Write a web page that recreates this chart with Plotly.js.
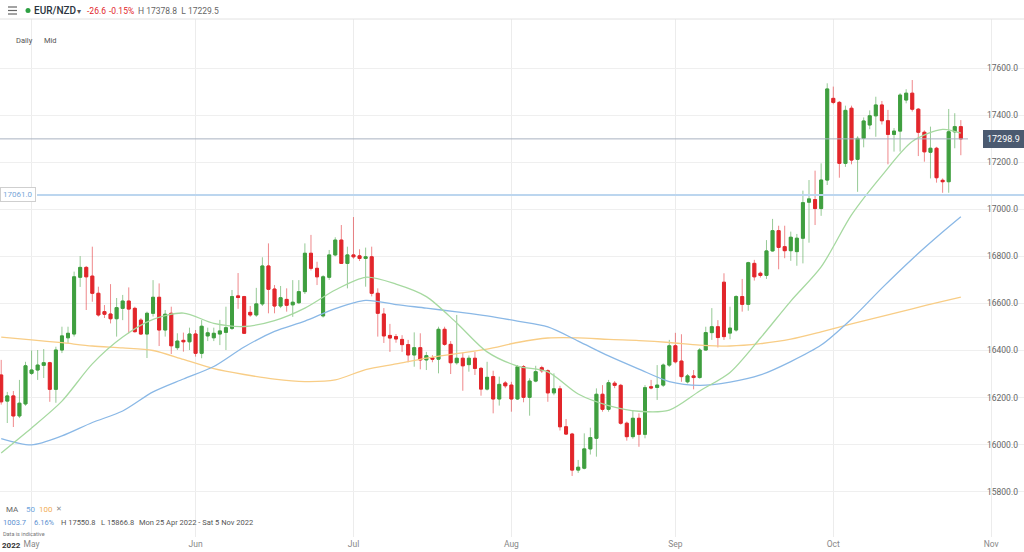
<!DOCTYPE html>
<html><head><meta charset="utf-8">
<script src="https://cdn.plot.ly/plotly-3.0.1.min.js"></script>
<style>html,body{margin:0;padding:0;background:#fff;}#chart{width:1024px;height:552px;}</style>
</head><body><div id="chart"></div>
<script>
// ---------- data (EUR/NZD daily, Mid) ----------
const firstDate = '2022-04-25';
const opens = [16296,16185,16207,16122,16173,16303,16317,16337,16348,16235,16402,16454,16470,16711,16753,16716,16643,16565,16555,16535,16579,16610,16579,16529,16470,16558,16626,16487,16558,16412,16443,16437,16470,16388,16462,16454,16470,16477,16494,16632,16629,16562,16551,16598,16759,16661,16589,16617,16594,16603,16650,16813,16749,16547,16711,16806,16869,16770,16806,16802,16791,16798,16643,16555,16464,16459,16447,16425,16381,16412,16360,16369,16363,16490,16426,16348,16367,16340,16367,16324,16236,16289,16194,16262,16253,16194,16331,16201,16270,16327,16314,16220,16237,16076,16045,15892,15900,15982,16027,16214,16150,16261,16252,16091,16034,16112,16044,16246,16243,16253,16338,16420,16355,16267,16292,16285,16402,16476,16501,16690,16474,16487,16629,16596,16770,16728,16719,16823,16909,16841,16824,16820,16877,17030,17041,17003,17124,17471,17454,17195,17429,17212,17301,17358,17397,17443,17376,17318,17332,17464,17493,17425,17327,17242,17259,17123,17117,17329,17351];
const highs = [16360,16224,16228,16275,16352,16400,16402,16406,16352,16416,16501,16501,16735,16801,16759,16841,16671,16593,16682,16623,16636,16668,16586,16537,16565,16699,16685,16572,16586,16473,16476,16497,16487,16529,16497,16497,16530,16586,16657,16729,16632,16589,16666,16796,16855,16678,16674,16664,16699,16699,16855,16891,16777,16720,16827,16881,16933,16841,16967,16830,16837,16841,16664,16580,16513,16470,16465,16445,16477,16473,16394,16380,16501,16501,16440,16551,16391,16379,16394,16330,16352,16314,16289,16270,16267,16338,16338,16282,16335,16335,16320,16303,16250,16109,16050,15935,16048,16072,16239,16253,16275,16270,16258,16098,16147,16133,16253,16275,16338,16345,16445,16475,16469,16300,16317,16410,16501,16580,16529,16728,16586,16635,16704,16777,16785,16735,16869,16959,16930,16930,16905,16895,17079,17124,17164,17195,17535,17521,17460,17440,17440,17310,17390,17420,17478,17460,17422,17345,17493,17510,17549,17430,17335,17351,17265,17131,17426,17408,17378.8];
const lows = [16170,16092,16075,16113,16165,16296,16275,16283,16182,16178,16389,16432,16459,16670,16572,16607,16544,16538,16515,16459,16529,16473,16476,16466,16368,16544,16419,16459,16385,16402,16395,16402,16374,16367,16440,16440,16423,16402,16487,16577,16470,16543,16543,16589,16558,16558,16580,16565,16543,16598,16640,16740,16678,16540,16700,16800,16768,16664,16790,16780,16671,16630,16459,16432,16394,16433,16394,16350,16331,16320,16317,16350,16303,16420,16300,16340,16229,16310,16296,16208,16230,16133,16166,16240,16140,16190,16180,16123,16265,16305,16182,16210,16060,16041,15867,15880,15895,15958,15949,16140,16140,16240,16085,16017,16025,15991,16027,16235,16190,16245,16330,16345,16267,16260,16235,16280,16400,16445,16413,16445,16448,16480,16565,16569,16697,16710,16704,16820,16745,16792,16781,16760,16770,16858,16933,16972,17103,17446,17134,17180,17191,17074,17263,17340,17308,17360,17191,17245,17245,17450,17415,17226,17202,17131,17113,17070,17070,17259,17229.5];
const closes = [16182,16207,16122,16176,16335,16317,16338,16348,16235,16402,16462,16473,16713,16753,16713,16643,16551,16554,16535,16582,16610,16576,16480,16470,16558,16626,16487,16554,16420,16440,16437,16470,16388,16503,16475,16473,16483,16497,16629,16625,16473,16551,16598,16759,16660,16589,16624,16592,16605,16650,16813,16749,16713,16713,16806,16869,16770,16806,16798,16791,16798,16643,16558,16462,16453,16449,16425,16381,16412,16360,16378,16363,16490,16426,16348,16367,16335,16367,16324,16236,16286,16194,16256,16250,16194,16331,16201,16270,16310,16314,16220,16237,16076,16045,15892,15904,15982,16030,16214,16150,16263,16252,16091,16034,16112,16044,16242,16241,16253,16338,16420,16352,16289,16292,16285,16402,16476,16501,16455,16459,16495,16629,16596,16773,16713,16719,16823,16909,16838,16824,16881,16877,17028,17044,17003,17124,17511,17454,17195,17420,17209,17301,17375,17397,17443,17376,17318,17332,17485,17493,17425,17327,17244,17259,17134,17117,17329,17351,17298.9];

// moving averages at every 5th candle (and the last one)
const maIndex = [0,5,10,15,20,25,30,35,40,45,50,55,60,65,70,75,80,85,90,95,100,105,110,115,120,125,130,135,140,145,150,155,158];
const ma20  = [15965,16071,16185,16343,16457,16532,16559,16515,16502,16527,16580,16657,16711,16682,16629,16517,16394,16334,16309,16215,16166,16142,16147,16228,16307,16453,16610,16755,16976,17143,17288,17339,17323];
const ma50  = [16026,15999,16037,16094,16143,16224,16279,16332,16415,16481,16525,16578,16613,16595,16580,16564,16547,16525,16500,16440,16377,16321,16268,16252,16266,16296,16353,16423,16534,16665,16789,16903,16968];
const ma100 = [16457,16445,16433,16419,16411,16400,16362,16323,16298,16278,16268,16275,16319,16343,16368,16387,16406,16434,16453,16454,16447,16442,16434,16423,16419,16429,16448,16479,16513,16545,16577,16609,16627];

const yTicks = [15800,16000,16200,16400,16600,16800,17000,17200,17400,17600];
const monthStarts = ['2022-05-01','2022-06-01','2022-07-01','2022-08-01','2022-09-01','2022-10-01','2022-11-01'];
const monthLabels = ['May','Jun','Jul','Aug','Sep','Oct','Nov'];
const alertLevel = 17061.0;
const headerPair = 'EUR/NZD';
const headerChange = '-26.6';
const headerChangePct = '-0.15%';
const periodChange = '1003.7';
const periodChangePct = '6.16%';
const periodHigh = 17550.8;
const periodLow = 15866.8;
const periodText = 'Mon 25 Apr 2022 - Sat 5 Nov 2022';

// ---------- helpers ----------
const DAY = 86400000;
function tradingDates(start, n){ // daily candles; Saturdays have none
  const out=[]; let t=Date.parse(start+'T00:00:00Z');
  while(out.length<n){ if(new Date(t).getUTCDay()!==6) out.push(new Date(t).toISOString().slice(0,10)); t+=DAY; }
  return out;
}
const N = closes.length;
const calendar = tradingDates(firstDate, N+14);      // session calendar, extended past the last candle
const dates = calendar.slice(0,N);
const slot = dates.map((d,i)=>i);                      // one slot per trading session
const tickSlots = monthStarts.map(m=>calendar.findIndex(d=>d>=m));
const xRange = [-0.2, N-1+10.4];

const bodyHigh = opens.map((o,i)=>Math.max(o,closes[i]));
const bodyLow = opens.map((o,i)=>Math.min(o,closes[i]));

const GREEN='#3f9f3f', RED='#e2262b';
const FONT='Roboto, "Open Sans", Arial, sans-serif';

const traces = [
  {type:'scatter',mode:'lines',x:maIndex,y:ma100,line:{color:'#f8cd86',width:1.3,shape:'spline',smoothing:0.8},hoverinfo:'skip',showlegend:false},
  {type:'scatter',mode:'lines',x:maIndex,y:ma50,line:{color:'#8ab8e6',width:1.3,shape:'spline',smoothing:0.8},hoverinfo:'skip',showlegend:false},
  {type:'scatter',mode:'lines',x:maIndex,y:ma20,line:{color:'#a6d9a0',width:1.3,shape:'spline',smoothing:0.8},hoverinfo:'skip',showlegend:false},
  {type:'candlestick',x:slot,open:opens,high:highs,low:lows,close:closes,whiskerwidth:0,text:dates,
   increasing:{line:{color:'rgba(63,159,63,0.55)',width:1},fillcolor:'rgba(0,0,0,0)'},
   decreasing:{line:{color:'rgba(226,38,43,0.55)',width:1},fillcolor:'rgba(0,0,0,0)'},
   hoverinfo:'skip',showlegend:false},
  {type:'candlestick',x:slot,open:opens,high:bodyHigh,low:bodyLow,close:closes,whiskerwidth:0,
   increasing:{line:{color:GREEN,width:1},fillcolor:GREEN},
   decreasing:{line:{color:RED,width:1},fillcolor:RED},
   hoverinfo:'skip',showlegend:false}
];

const TOP=19, BOT=537, H=BOT-TOP;
const px = x=>x/1024;
const py = y=>(BOT-y)/H;
function txt(text,x,y,size,color,extra){
  return Object.assign({xref:'paper',yref:'paper',x:px(x),y:py(y),xanchor:'left',yanchor:'middle',
    showarrow:false,borderpad:0,text:text,font:{family:FONT,size:size,color:color}},extra||{});
}
const last = N-1;
const annotations = [
  txt(headerPair,33,10.5,10,'#2b3440',{font:{family:FONT,size:10,color:'#2b3440',weight:500}}),
  txt('▾',76,11,8,'#555'),
  txt(headerChange,86,10.5,8.5,'#e2262b'),
  txt(headerChangePct,108,10.5,8.5,'#e2262b'),
  txt('H '+highs[last].toFixed(1)+'  L '+lows[last].toFixed(1),137,10.5,8.5,'#666'),
  txt('Daily',15,40,7.5,'#555'),
  txt('Mid',43,40,7.5,'#555'),
  txt('MA',5,509,8,'#666'),
  txt('50',25,509,8,'#6fa5dd'),
  txt('100',38,509,8,'#f2ad55'),
  txt('✕',55,509,6.5,'#888'),
  txt(periodChange,2,522,7.5,'#5b8fd0'),
  txt(periodChangePct,33,522,7.5,'#5b8fd0'),
  txt('H '+periodHigh.toFixed(1),60,522,7.5,'#555'),
  txt('L '+periodLow.toFixed(1),100,522,7.5,'#555'),
  txt(periodText,138,522,7.5,'#555'),
  txt('Data is indicative',2,534,5.5,'#777'),
  txt('<b>2022</b>',1,545,8,'#333'),
  {xref:'paper',yref:'y',x:0,y:alertLevel,xanchor:'left',yanchor:'middle',showarrow:false,
   text:alertLevel.toFixed(1),font:{family:FONT,size:8,color:'#79a7d8'},bgcolor:'#ffffff',
   bordercolor:'#cfcfcf',borderwidth:1,borderpad:2},
  {xref:'paper',yref:'y',x:1,y:closes[last],xanchor:'right',yanchor:'middle',showarrow:false,
   text:closes[last].toFixed(1),font:{family:FONT,size:9,color:'#ffffff'},bgcolor:'#4b5a70',
   bordercolor:'#4b5a70',borderwidth:1,borderpad:3}
];
// price scale labels drawn over the plot at its right edge
yTicks.forEach(v=>annotations.push({xref:'paper',yref:'y',x:px(1019),y:v,xanchor:'right',yanchor:'middle',
  showarrow:false,borderpad:0,text:v.toFixed(1),font:{family:FONT,size:8.5,color:'#666'}}));

const shapes = [
  {type:'line',xref:'paper',yref:'paper',x0:0,x1:1,y0:1,y1:1,line:{color:'#e2e2e2',width:1}},
  {type:'line',xref:'paper',yref:'paper',x0:px(8),x1:px(17),y0:py(7),y1:py(7),line:{color:'#666',width:1.2}},
  {type:'line',xref:'paper',yref:'paper',x0:px(8),x1:px(17),y0:py(10.5),y1:py(10.5),line:{color:'#666',width:1.2}},
  {type:'line',xref:'paper',yref:'paper',x0:px(8),x1:px(17),y0:py(14),y1:py(14),line:{color:'#666',width:1.2}},
  {type:'circle',xref:'paper',yref:'paper',x0:px(25.5),x1:px(30.5),y0:py(13),y1:py(8),fillcolor:'#2ea043',line:{width:0}},
  {type:'line',xref:'paper',yref:'y',x0:px(37),x1:1,y0:alertLevel,y1:alertLevel,line:{color:'#bcd6ef',width:2}},
  {type:'line',xref:'paper',yref:'y',x0:0,x1:px(968),y0:closes[last],y1:closes[last],line:{color:'#a9b3c1',width:1}}
];

const layout = {
  width:1024,height:552,margin:{l:0,r:0,t:TOP,b:552-BOT},
  paper_bgcolor:'#ffffff',plot_bgcolor:'#ffffff',showlegend:false,
  font:{family:FONT},
  xaxis:{type:'linear',range:xRange,rangeslider:{visible:false},tickmode:'array',tickvals:tickSlots,ticktext:monthLabels,
    showgrid:true,gridcolor:'#ececec',gridwidth:1,zeroline:false,showline:false,ticks:'',
    tickfont:{family:FONT,size:8.5,color:'#888'},fixedrange:true},
  yaxis:{side:'right',range:[15607.7,17808.2],tickmode:'array',tickvals:yTicks,showticklabels:false,
    showgrid:true,gridcolor:'#efefef',zeroline:false,showline:false,ticks:'',fixedrange:true},
  annotations:annotations,shapes:shapes
};
Plotly.newPlot('chart',traces,layout,{displayModeBar:false,staticPlot:true});
</script>
</body></html>
